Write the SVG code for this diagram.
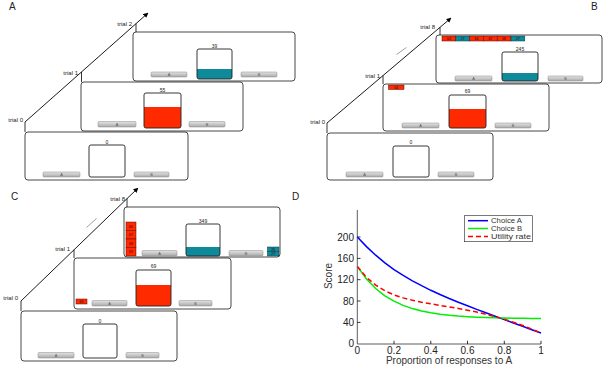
<svg xmlns="http://www.w3.org/2000/svg" width="605" height="368" viewBox="0 0 605 368">
<defs>
<linearGradient id="btn" x1="0" y1="0" x2="0" y2="1">
<stop offset="0" stop-color="#e4e4e4"/>
<stop offset="1" stop-color="#a9a9a9"/>
</linearGradient>
<marker id="ah" viewBox="0 0 10 10" refX="9" refY="5" markerWidth="5" markerHeight="5" orient="auto" markerUnits="userSpaceOnUse">
<path d="M0,0 L10,5 L0,10 z" fill="#000"/>
</marker>
</defs>
<style>
text{font-family:"Liberation Sans",Arial,sans-serif;fill:#222}
.frame{fill:#fff;stroke:#333;stroke-width:0.9}
.cbox{fill:none;stroke:#222;stroke-width:0.9}
.btn{fill:url(#btn);stroke:#8a8a8a;stroke-width:0.5}
.bl{font-size:3.8px;fill:#555;text-anchor:middle}
.sc{font-size:5px;text-anchor:middle}
.tr{font-size:6px;text-anchor:end}
.pl{font-size:10px}
.red{fill:#ff2a00}
.teal{fill:#0e8a9a}
.tokr{fill:#ff2a00;stroke:#5a0a00;stroke-width:0.5}
.tokt{fill:#0e8a9a;stroke:#053a40;stroke-width:0.5}
.tk{font-size:3.4px;text-anchor:middle;fill:#300}
.arrow{stroke:#000;stroke-width:0.9;fill:none}
.tick{stroke:#000;stroke-width:0.8}
.dots{stroke:#888;stroke-width:0.8}
.ax{stroke:#333;stroke-width:0.8;fill:none}
.tl{font-size:10px;fill:#333}
.lg{font-size:7.2px;fill:#333}
</style>

<!-- Panel letters -->
<text class="pl" x="9" y="10">A</text>
<text class="pl" x="591" y="10">B</text>
<text class="pl" x="11" y="200">C</text>
<text class="pl" x="292" y="200">D</text>

<!-- ========== PANEL A ========== -->
<g id="A-trial0">
<rect class="frame" x="25" y="132" width="163" height="48" rx="3"/>
<text class="sc" x="107" y="143.5">0</text>
<rect class="cbox" x="89" y="145" width="36" height="32" rx="2"/>
<rect class="btn" x="43" y="172" width="37" height="5" rx="1"/><text class="bl" x="61.5" y="176">A</text>
<rect class="btn" x="134" y="172" width="35" height="5" rx="1"/><text class="bl" x="151.5" y="176">B</text>
</g>
<g id="A-trial1">
<rect class="frame" x="81" y="82" width="162" height="49" rx="3"/>
<text class="sc" x="162.5" y="91.5">55</text>
<path class="red" d="M144,107 H181 V126 Q181,128 179,128 H146 Q144,128 144,126 Z"/>
<rect class="cbox" x="144" y="93" width="37" height="35" rx="2"/>
<rect class="btn" x="98" y="121.5" width="38" height="5.5" rx="1"/><text class="bl" x="117" y="125.7">A</text>
<rect class="btn" x="189" y="121.5" width="36" height="5.5" rx="1"/><text class="bl" x="207" y="125.7">B</text>
</g>
<g id="A-trial2">
<rect class="frame" x="133" y="32" width="162" height="49" rx="3"/>
<text class="sc" x="214.5" y="47.5">39</text>
<path class="teal" d="M197,69 H232 V77 Q232,79 230,79 H199 Q197,79 197,77 Z"/>
<rect class="cbox" x="197" y="49" width="35" height="30" rx="2"/>
<rect class="btn" x="151" y="72" width="36" height="5" rx="1"/><text class="bl" x="169" y="76">A</text>
<rect class="btn" x="241" y="72" width="36" height="5" rx="1"/><text class="bl" x="259" y="76">B</text>
</g>
<g id="A-labels">
<text class="tr" x="23" y="122">trial 0</text>
<text class="tr" x="78" y="75">trial 1</text>
<text class="tr" x="132" y="26">trial 2</text>
</g>

<!-- ========== PANEL B ========== -->
<g id="B-trial0">
<rect class="frame" x="327" y="133" width="166" height="47" rx="3"/>
<text class="sc" x="411" y="144">0</text>
<rect class="cbox" x="393" y="146" width="36" height="31" rx="2"/>
<rect class="btn" x="346" y="172" width="37" height="5" rx="1"/><text class="bl" x="364.5" y="176">A</text>
<rect class="btn" x="438" y="172" width="36" height="5" rx="1"/><text class="bl" x="456" y="176">B</text>
</g>
<g id="B-trial1">
<rect class="frame" x="383" y="84" width="166" height="47" rx="3"/>
<rect class="tokr" x="388.5" y="85" width="15.5" height="4.5"/><text class="tk" x="396.2" y="88.5">64</text>
<text class="sc" x="467.5" y="93">69</text>
<path class="red" d="M449,109 H486 V126 Q486,128 484,128 H451 Q449,128 449,126 Z"/>
<rect class="cbox" x="449" y="95" width="37" height="33" rx="2"/>
<rect class="btn" x="402" y="123" width="37" height="5" rx="1"/><text class="bl" x="420.5" y="127">A</text>
<rect class="btn" x="495" y="123" width="36" height="5" rx="1"/><text class="bl" x="513" y="127">B</text>
</g>
<g id="B-trial8">
<rect class="frame" x="436" y="35" width="166" height="48" rx="3"/>
<rect class="tokr" x="442" y="36" width="13.8" height="5"/><text class="tk" x="448.9" y="39.8">64</text>
<rect class="tokt" x="455.8" y="36" width="13.8" height="5"/><text class="tk" x="462.7" y="39.8">27</text>
<rect class="tokr" x="469.6" y="36" width="13.8" height="5"/><text class="tk" x="476.5" y="39.8">66</text>
<rect class="tokr" x="483.4" y="36" width="13.8" height="5"/><text class="tk" x="490.3" y="39.8">67</text>
<rect class="tokr" x="497.2" y="36" width="13.8" height="5"/><text class="tk" x="504.1" y="39.8">68</text>
<rect class="tokt" x="511" y="36" width="13.8" height="5"/><text class="tk" x="517.9" y="39.8">27</text>
<text class="sc" x="520" y="50.5">245</text>
<path class="teal" d="M502,73 H538 V79 Q538,81 536,81 H504 Q502,81 502,79 Z"/>
<rect class="cbox" x="502" y="52" width="36" height="29" rx="2"/>
<rect class="btn" x="455" y="76" width="37" height="5" rx="1"/><text class="bl" x="473.5" y="80">A</text>
<rect class="btn" x="548" y="76" width="35" height="5" rx="1"/><text class="bl" x="565.5" y="80">B</text>
</g>
<g id="B-labels">
<text class="tr" x="325" y="124">trial 0</text>
<text class="tr" x="380" y="78">trial 1</text>
<text class="tr" x="435" y="28.5">trial 8</text>
</g>

<!-- ========== PANEL C ========== -->
<g id="C-trial0">
<rect class="frame" x="21" y="311" width="156" height="50" rx="3"/>
<text class="sc" x="100" y="322.5">0</text>
<rect class="cbox" x="83" y="324" width="34" height="34" rx="2"/>
<rect class="btn" x="38" y="352.5" width="36" height="5.5" rx="1"/><text class="bl" x="56" y="356.7">A</text>
<rect class="btn" x="126" y="352.5" width="33" height="5.5" rx="1"/><text class="bl" x="142.5" y="356.7">B</text>
</g>
<g id="C-trial1">
<rect class="frame" x="74" y="258" width="157" height="51" rx="3"/>
<rect class="tokr" x="76" y="299" width="11" height="5"/><text class="tk" x="81.5" y="302.8">69</text>
<text class="sc" x="153.5" y="268">69</text>
<path class="red" d="M136,285 H171 V304 Q171,306 169,306 H138 Q136,306 136,304 Z"/>
<rect class="cbox" x="136" y="270" width="35" height="36" rx="2"/>
<rect class="btn" x="92" y="300.5" width="35" height="5.5" rx="1"/><text class="bl" x="109.5" y="304.7">A</text>
<rect class="btn" x="179" y="300.5" width="33" height="5.5" rx="1"/><text class="bl" x="195.5" y="304.7">B</text>
</g>
<g id="C-trial8">
<rect class="frame" x="124" y="207" width="156" height="50" rx="3"/>
<rect class="tokr" x="126" y="222" width="10" height="8.5"/><text class="tk" x="131" y="227.5">66</text>
<rect class="tokr" x="126" y="230.5" width="10" height="8.5"/><text class="tk" x="131" y="236">67</text>
<rect class="tokr" x="126" y="239" width="10" height="8.5"/><text class="tk" x="131" y="244.5">68</text>
<rect class="tokr" x="126" y="247.5" width="10" height="8.5"/><text class="tk" x="131" y="253">69</text>
<rect class="tokt" x="267.5" y="247" width="11.5" height="4.5"/><text class="tk" x="273.2" y="250.5">26</text>
<rect class="tokt" x="267.5" y="251.5" width="11.5" height="4.5"/><text class="tk" x="273.2" y="255">27</text>
<text class="sc" x="203" y="222.5">349</text>
<path class="teal" d="M186,247 H220 V254 Q220,256 218,256 H188 Q186,256 186,254 Z"/>
<rect class="cbox" x="186" y="224" width="34" height="32" rx="2"/>
<rect class="btn" x="142" y="250.5" width="35" height="5.5" rx="1"/><text class="bl" x="159.5" y="254.7">A</text>
<rect class="btn" x="229" y="250.5" width="34" height="5.5" rx="1"/><text class="bl" x="246" y="254.7">B</text>
</g>
<g id="C-labels">
<text class="tr" x="18" y="300">trial 0</text>
<text class="tr" x="70" y="251">trial 1</text>
<text class="tr" x="125" y="200.5">trial 8</text>
</g>

<!-- ========== CONNECTORS ========== -->
<g id="connectors">
<line class="arrow" x1="25" y1="122" x2="148" y2="13" marker-end="url(#ah)"/>
<line class="tick" x1="25" y1="122" x2="25" y2="132"/>
<line class="tick" x1="81.5" y1="72" x2="81.5" y2="82"/>
<line class="tick" x1="136" y1="23.6" x2="136" y2="32"/>

<line class="arrow" x1="327" y1="123" x2="451" y2="18" marker-end="url(#ah)"/>
<line class="tick" x1="327" y1="123" x2="327" y2="133"/>
<line class="tick" x1="383" y1="75.6" x2="383" y2="84"/>
<line class="tick" x1="440" y1="27.3" x2="440" y2="35"/>
<line class="dots" x1="396.5" y1="54.5" x2="406.5" y2="47.5"/>

<line class="arrow" x1="21" y1="301" x2="138" y2="188" marker-end="url(#ah)"/>
<line class="tick" x1="21" y1="301" x2="21" y2="311"/>
<line class="tick" x1="74" y1="249.8" x2="74" y2="258"/>
<line class="tick" x1="127" y1="198.6" x2="127" y2="207"/>
<line class="dots" x1="86.5" y1="227.5" x2="96.5" y2="218.5"/>
</g>

<!-- ========== PANEL D (plot) ========== -->
<g id="D-plot">
<path class="ax" d="M357.3,210 V344 H541"/>
<g class="tick" stroke-width="0.6">
<line x1="357.3" y1="322.4" x2="360.5" y2="322.4"/>
<line x1="357.3" y1="301.0" x2="360.5" y2="301.0"/>
<line x1="357.3" y1="279.7" x2="360.5" y2="279.7"/>
<line x1="357.3" y1="258.4" x2="360.5" y2="258.4"/>
<line x1="357.3" y1="237.0" x2="360.5" y2="237.0"/>
<line x1="394.0" y1="344" x2="394.0" y2="340.8"/>
<line x1="430.8" y1="344" x2="430.8" y2="340.8"/>
<line x1="467.5" y1="344" x2="467.5" y2="340.8"/>
<line x1="504.3" y1="344" x2="504.3" y2="340.8"/>
<line x1="541" y1="344" x2="541" y2="340.8"/>
</g>
<g class="tl" text-anchor="end">
<text x="354" y="347.2">0</text>
<text x="354" y="325.9">40</text>
<text x="354" y="304.5">80</text>
<text x="354" y="283.2">120</text>
<text x="354" y="261.9">160</text>
<text x="354" y="240.5">200</text>
</g>
<g class="tl" text-anchor="middle">
<text x="357.3" y="354">0</text>
<text x="394.0" y="354">0.2</text>
<text x="430.8" y="354">0.4</text>
<text x="467.5" y="354">0.6</text>
<text x="504.3" y="354">0.8</text>
<text x="541" y="354">1</text>
</g>
<text class="tl" x="449" y="364" text-anchor="middle" font-size="10.5">Proportion of responses to A</text>
<text class="tl" x="0" y="0" text-anchor="middle" transform="translate(331.5,276) rotate(-90)">Score</text>

<polyline fill="none" stroke="#0000ff" stroke-width="1.5" points="357.3,237.0 366.5,246.6 375.7,255.2 384.9,262.9 394.0,269.6 403.2,275.4 412.4,280.8 421.6,285.7 430.8,290.3 440.0,294.5 449.2,298.5 458.3,302.2 467.5,305.8 476.7,309.4 485.9,312.8 495.1,316.2 504.3,319.6 513.4,323.0 522.6,326.3 531.8,329.7 541.0,333.0"/>
<polyline fill="none" stroke="#00ee00" stroke-width="1.5" points="357.3,266.4 366.5,279.0 375.7,288.5 384.9,295.8 394.0,301.2 403.2,305.4 412.4,308.6 421.6,311.0 430.8,312.8 440.0,314.2 449.2,315.3 458.3,316.1 467.5,316.7 476.7,317.2 485.9,317.5 495.1,317.8 504.3,318.0 513.4,318.2 522.6,318.3 531.8,318.4 541.0,318.4"/>
<polyline fill="none" stroke="#ff0000" stroke-width="1.5" stroke-dasharray="5,3" points="357.3,266.4 366.5,277.4 375.7,285.1 384.9,290.8 394.0,294.9 403.2,297.9 412.4,300.2 421.6,302.2 430.8,303.8 440.0,305.4 449.2,306.9 458.3,308.5 467.5,310.2 476.7,312.1 485.9,314.3 495.1,316.6 504.3,319.3 513.4,322.2 522.6,325.5 531.8,329.1 541.0,333.0"/>

<g id="legend">
<rect x="464.3" y="215.7" width="68" height="26" fill="#fff" stroke="#222" stroke-width="0.6"/>
<line x1="468" y1="220.7" x2="488" y2="220.7" stroke="#0000ff" stroke-width="1.5"/>
<line x1="468" y1="228.5" x2="488" y2="228.5" stroke="#00ee00" stroke-width="1.5"/>
<line x1="468" y1="236.5" x2="488" y2="236.5" stroke="#ff0000" stroke-width="1.5" stroke-dasharray="5,3"/>
<text class="lg" x="491" y="223.3" textLength="31" lengthAdjust="spacingAndGlyphs">Choice A</text>
<text class="lg" x="491" y="231.1" textLength="31" lengthAdjust="spacingAndGlyphs">Choice B</text>
<text class="lg" x="491" y="239.1" textLength="40" lengthAdjust="spacingAndGlyphs">Utility rate</text>
</g>
</g>
</svg>
